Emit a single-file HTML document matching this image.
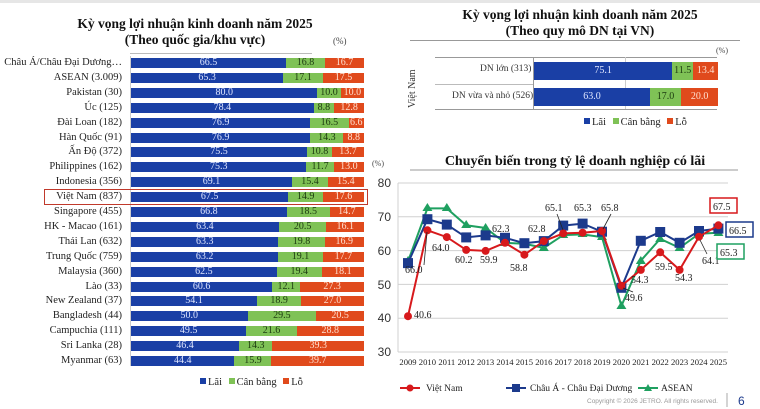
<!DOCTYPE html>
<html><head><meta charset="utf-8"><style>
body{margin:0;width:760px;height:409px;background:#fff;position:relative;overflow:hidden;font-family:"Liberation Serif",serif;}
.a{position:absolute;}
.t{font-weight:bold;font-size:13.5px;text-align:center;color:#111;line-height:16px;}
.row{position:absolute;left:0;height:10px;}
.lab{position:absolute;left:-8px;width:130px;text-align:right;font-size:10.5px;color:#222;top:-1px;line-height:12px;white-space:nowrap;}
.bar{position:absolute;left:131px;width:233px;height:10px;display:flex;font-size:10px;line-height:10px;}
.bar div{text-align:center;overflow:hidden;white-space:nowrap;}
.b{background:#1a3fa5;color:#dfe6ff;}.g{background:#7fc256;color:#1c3a10;}.r{background:#e04a1c;color:#ffe0d0;}
.leg{font-size:10.5px;color:#222;}
.sq{display:inline-block;width:6px;height:6px;margin:0 2px 1px 4px;}
</style></head><body>
<div class="a" style="left:0;top:0;width:760px;height:3px;background:#e6e6e6"></div>
<div class="a t" style="left:60px;top:16px;width:270px">Kỳ vọng lợi nhuận kinh doanh năm 2025<br>(Theo quốc gia/khu vực)</div>
<div class="a" style="left:333px;top:36px;font-size:9px;color:#444">(%)</div>
<div class="a" style="left:130px;top:53px;width:182px;height:1px;background:#bbb"></div>
<div class="a" style="left:130px;top:56px;width:1px;height:310px;background:#ccc"></div>

<div class="row" style="top:58px"><div class="lab">Châu Á/Châu Đại Dương…</div><div class="bar"><div class="b" style="width:66.5%">66.5</div><div class="g" style="width:16.8%">16.8</div><div class="r" style="width:16.7%">16.7</div></div></div>
<div class="row" style="top:73px"><div class="lab">ASEAN (3.009)</div><div class="bar"><div class="b" style="width:65.3%">65.3</div><div class="g" style="width:17.1%">17.1</div><div class="r" style="width:17.6%">17.5</div></div></div>
<div class="row" style="top:88px"><div class="lab">Pakistan (30)</div><div class="bar"><div class="b" style="width:80%">80.0</div><div class="g" style="width:10%">10.0</div><div class="r" style="width:10%">10.0</div></div></div>
<div class="row" style="top:103px"><div class="lab">Úc (125)</div><div class="bar"><div class="b" style="width:78.4%">78.4</div><div class="g" style="width:8.8%">8.8</div><div class="r" style="width:12.8%">12.8</div></div></div>
<div class="row" style="top:118px"><div class="lab">Đài Loan (182)</div><div class="bar"><div class="b" style="width:76.9%">76.9</div><div class="g" style="width:16.5%">16.5</div><div class="r" style="width:6.6%">6.6</div></div></div>
<div class="row" style="top:133px"><div class="lab">Hàn Quốc (91)</div><div class="bar"><div class="b" style="width:76.9%">76.9</div><div class="g" style="width:14.3%">14.3</div><div class="r" style="width:8.8%">8.8</div></div></div>
<div class="row" style="top:147px"><div class="lab">Ấn Độ (372)</div><div class="bar"><div class="b" style="width:75.5%">75.5</div><div class="g" style="width:10.8%">10.8</div><div class="r" style="width:13.7%">13.7</div></div></div>
<div class="row" style="top:162px"><div class="lab">Philippines (162)</div><div class="bar"><div class="b" style="width:75.3%">75.3</div><div class="g" style="width:11.7%">11.7</div><div class="r" style="width:13%">13.0</div></div></div>
<div class="row" style="top:177px"><div class="lab">Indonesia (356)</div><div class="bar"><div class="b" style="width:69.1%">69.1</div><div class="g" style="width:15.4%">15.4</div><div class="r" style="width:15.5%">15.4</div></div></div>
<div class="row" style="top:192px"><div class="lab">Việt Nam (837)</div><div class="bar"><div class="b" style="width:67.5%">67.5</div><div class="g" style="width:14.9%">14.9</div><div class="r" style="width:17.6%">17.6</div></div></div>
<div class="row" style="top:207px"><div class="lab">Singapore (455)</div><div class="bar"><div class="b" style="width:66.8%">66.8</div><div class="g" style="width:18.5%">18.5</div><div class="r" style="width:14.7%">14.7</div></div></div>
<div class="row" style="top:222px"><div class="lab">HK - Macao (161)</div><div class="bar"><div class="b" style="width:63.4%">63.4</div><div class="g" style="width:20.5%">20.5</div><div class="r" style="width:16.1%">16.1</div></div></div>
<div class="row" style="top:237px"><div class="lab">Thái Lan (632)</div><div class="bar"><div class="b" style="width:63.3%">63.3</div><div class="g" style="width:19.8%">19.8</div><div class="r" style="width:16.9%">16.9</div></div></div>
<div class="row" style="top:252px"><div class="lab">Trung Quốc (759)</div><div class="bar"><div class="b" style="width:63.2%">63.2</div><div class="g" style="width:19.1%">19.1</div><div class="r" style="width:17.7%">17.7</div></div></div>
<div class="row" style="top:267px"><div class="lab">Malaysia (360)</div><div class="bar"><div class="b" style="width:62.5%">62.5</div><div class="g" style="width:19.4%">19.4</div><div class="r" style="width:18.1%">18.1</div></div></div>
<div class="row" style="top:282px"><div class="lab">Lào (33)</div><div class="bar"><div class="b" style="width:60.6%">60.6</div><div class="g" style="width:12.1%">12.1</div><div class="r" style="width:27.3%">27.3</div></div></div>
<div class="row" style="top:296px"><div class="lab">New Zealand (37)</div><div class="bar"><div class="b" style="width:54.1%">54.1</div><div class="g" style="width:18.9%">18.9</div><div class="r" style="width:27%">27.0</div></div></div>
<div class="row" style="top:311px"><div class="lab">Bangladesh (44)</div><div class="bar"><div class="b" style="width:50%">50.0</div><div class="g" style="width:29.5%">29.5</div><div class="r" style="width:20.5%">20.5</div></div></div>
<div class="row" style="top:326px"><div class="lab">Campuchia (111)</div><div class="bar"><div class="b" style="width:49.5%">49.5</div><div class="g" style="width:21.6%">21.6</div><div class="r" style="width:28.9%">28.8</div></div></div>
<div class="row" style="top:341px"><div class="lab">Sri Lanka (28)</div><div class="bar"><div class="b" style="width:46.4%">46.4</div><div class="g" style="width:14.3%">14.3</div><div class="r" style="width:39.3%">39.3</div></div></div>
<div class="row" style="top:356px"><div class="lab">Myanmar (63)</div><div class="bar"><div class="b" style="width:44.4%">44.4</div><div class="g" style="width:15.9%">15.9</div><div class="r" style="width:39.7%">39.7</div></div></div>
<div class="a" style="left:44px;top:189px;width:322px;height:14px;border:1.5px solid #c0392b"></div>
<div class="a leg" style="left:196px;top:377px"><span class="sq" style="background:#1a3fa5"></span>Lãi <span class="sq" style="background:#7fc256"></span>Cân bằng <span class="sq" style="background:#e04a1c"></span>Lỗ</div>

<div class="a t" style="left:440px;top:7px;width:280px">Kỳ vọng lợi nhuận kinh doanh năm 2025<br>(Theo quy mô DN tại VN)</div>
<div class="a" style="left:410px;top:40px;width:330px;height:1px;background:#999"></div>
<div class="a" style="left:716px;top:46px;font-size:8px;color:#444">(%)</div>
<div class="a" style="left:435px;top:57px;width:282px;height:1px;background:#999"></div>
<div class="a" style="left:435px;top:84px;width:98px;height:1px;background:#bbb"></div>
<div class="a" style="left:435px;top:109px;width:282px;height:1px;background:#999"></div>
<div class="a" style="left:533px;top:57px;width:1px;height:52px;background:#999"></div>
<div class="a" style="left:625px;top:57px;width:1px;height:52px;background:#ccc"></div>
<div class="a" style="left:407px;font-size:10px;color:#333;transform:rotate(-90deg);transform-origin:left top;white-space:nowrap;top:108px">Việt Nam</div>
<div class="a" style="left:480px;top:64px;font-size:9.5px;color:#333">DN lớn (313)</div>
<div class="a" style="left:452px;top:91px;font-size:9.5px;color:#333">DN vừa và nhỏ (526)</div>
<div class="bar a" style="left:534px;top:62px;width:184px;height:18px;line-height:18px"><div class="b" style="width:75.1%">75.1</div><div class="g" style="width:11.5%">11.5</div><div class="r" style="width:13.4%">13.4</div></div>
<div class="bar a" style="left:534px;top:88px;width:184px;height:18px;line-height:18px"><div class="b" style="width:63%">63.0</div><div class="g" style="width:17%">17.0</div><div class="r" style="width:20%">20.0</div></div>
<div class="a leg" style="left:580px;top:117px"><span class="sq" style="background:#1a3fa5"></span>Lãi <span class="sq" style="background:#7fc256"></span>Cân bằng <span class="sq" style="background:#e04a1c"></span>Lỗ</div>

<svg class="a" style="left:0;top:0" width="760" height="409" font-family="Liberation Serif, serif">
<text x="575" y="165" font-size="14" font-weight="bold" text-anchor="middle" fill="#111">Chuyển biến trong tỷ lệ doanh nghiệp có lãi</text>
<line x1="410" y1="170" x2="738" y2="170" stroke="#999"/>
<text x="372" y="166" font-size="8" fill="#444">(%)</text>
<g stroke="#d0d0d0" stroke-width="1">
<line x1="398" y1="183" x2="728" y2="183"/><line x1="398" y1="216.8" x2="728" y2="216.8"/><line x1="398" y1="250.6" x2="728" y2="250.6"/><line x1="398" y1="284.4" x2="728" y2="284.4"/><line x1="398" y1="318.2" x2="728" y2="318.2"/><line x1="398" y1="352" x2="728" y2="352"/>
<line x1="398" y1="183" x2="398" y2="352"/>
</g>
<g font-family="Liberation Sans, sans-serif" font-size="12" fill="#333" text-anchor="end">
<text x="391" y="187">80</text><text x="391" y="221">70</text><text x="391" y="255">60</text><text x="391" y="289">50</text><text x="391" y="322">40</text><text x="391" y="356">30</text></g>
<g font-size="8.6" fill="#222" text-anchor="middle">
<text x="408" y="365">2009</text><text x="427.4" y="365">2010</text><text x="446.8" y="365">2011</text><text x="466.2" y="365">2012</text><text x="485.6" y="365">2013</text><text x="505" y="365">2014</text><text x="524.4" y="365">2015</text><text x="543.8" y="365">2016</text><text x="563.2" y="365">2017</text><text x="582.6" y="365">2018</text><text x="602" y="365">2019</text><text x="621.4" y="365">2020</text><text x="640.8" y="365">2021</text><text x="660.2" y="365">2022</text><text x="679.6" y="365">2023</text><text x="699" y="365">2024</text><text x="718.4" y="365">2025</text></g>
<polyline fill="none" stroke="#1fa060" stroke-width="2" points="408,261.4 427.4,208.4 446.8,208.4 466.2,225.3 485.6,228 505,242.8 524.4,243.8 543.8,247.9 563.2,235.1 582.6,234.4 602,237.1 621.4,306 640.8,260.7 660.2,238.8 679.6,247.9 699,233.7 718.4,232.7"/>
<g fill="#1fa060">
<path d="M408,256l5,8h-10z"/><path d="M427.4,203l5,8h-10z"/><path d="M446.8,203l5,8h-10z"/><path d="M466.2,220l5,8h-10z"/><path d="M485.6,223l5,8h-10z"/><path d="M505,238l5,8h-10z"/><path d="M524.4,239l5,8h-10z"/><path d="M543.8,243l5,8h-10z"/><path d="M563.2,230l5,8h-10z"/><path d="M582.6,229l5,8h-10z"/><path d="M602,232l5,8h-10z"/><path d="M621.4,301l5,8h-10z"/><path d="M640.8,256l5,8h-10z"/><path d="M660.2,234l5,8h-10z"/><path d="M679.6,243l5,8h-10z"/><path d="M699,229l5,8h-10z"/><path d="M718.4,228l5,8h-10z"/></g>
<polyline fill="none" stroke="#1c3a8c" stroke-width="2" points="408,263.1 427.4,219.2 446.8,224.6 466.2,237.4 485.6,235.4 505,237.8 524.4,243.2 543.8,241.1 563.2,225.6 582.6,223.6 602,231.7 621.4,287.8 640.8,240.8 660.2,232 679.6,242.8 699,231 718.4,228.6"/>
<g fill="#1c3a8c">
<rect x="403" y="258.1" width="10" height="10"/><rect x="422.4" y="214.2" width="10" height="10"/><rect x="441.8" y="219.6" width="10" height="10"/><rect x="461.2" y="232.4" width="10" height="10"/><rect x="480.6" y="230.4" width="10" height="10"/><rect x="500" y="232.8" width="10" height="10"/><rect x="519.4" y="238.2" width="10" height="10"/><rect x="538.8" y="236.1" width="10" height="10"/><rect x="558.2" y="220.6" width="10" height="10"/><rect x="577.6" y="218.6" width="10" height="10"/><rect x="597" y="226.7" width="10" height="10"/><rect x="616.4" y="282.8" width="10" height="10"/><rect x="635.8" y="235.8" width="10" height="10"/><rect x="655.2" y="227" width="10" height="10"/><rect x="674.6" y="237.8" width="10" height="10"/><rect x="694" y="226" width="10" height="10"/><rect x="713.4" y="223.6" width="10" height="10"/></g>
<polyline fill="none" stroke="#d7191c" stroke-width="2" points="408,316.2 427.4,230.3 446.8,237.1 466.2,249.9 485.6,250.9 505,242.8 524.4,254.7 543.8,241.1 563.2,233.4 582.6,232.7 602,231 621.4,285.8 640.8,269.9 660.2,252.3 679.6,269.9 699,236.7 718.4,225.3"/>
<g fill="#d7191c">
<circle cx="408" cy="316.2" r="4"/><circle cx="427.4" cy="230.3" r="4"/><circle cx="446.8" cy="237.1" r="4"/><circle cx="466.2" cy="249.9" r="4"/><circle cx="485.6" cy="250.9" r="4"/><circle cx="505" cy="242.8" r="4"/><circle cx="524.4" cy="254.7" r="4"/><circle cx="543.8" cy="241.1" r="4"/><circle cx="563.2" cy="233.4" r="4"/><circle cx="582.6" cy="232.7" r="4"/><circle cx="602" cy="231" r="4"/><circle cx="621.4" cy="285.8" r="4"/><circle cx="640.8" cy="269.9" r="4"/><circle cx="660.2" cy="252.3" r="4"/><circle cx="679.6" cy="269.9" r="4"/><circle cx="699" cy="236.7" r="4"/><circle cx="718.4" cy="225.3" r="4"/></g>
<g font-size="10" fill="#222">
<text x="414" y="318">40.6</text><text x="405" y="273">66.0</text><text x="432" y="251">64.0</text><text x="455" y="263">60.2</text><text x="480" y="263">59.9</text><text x="492" y="232">62.3</text><text x="510" y="271">58.8</text><text x="528" y="232">62.8</text><text x="545" y="211">65.1</text><text x="574" y="211">65.3</text><text x="601" y="211">65.8</text><text x="631" y="283">54.3</text><text x="625" y="301">49.6</text><text x="655" y="270">59.5</text><text x="675" y="281">54.3</text><text x="702" y="264">64.1</text>
<rect x="710" y="198" width="27" height="15" fill="#fff" stroke="#d7191c" stroke-width="1.5"/><text x="713" y="210" fill="#222">67.5</text>
<rect x="726" y="222" width="27" height="15" fill="#fff" stroke="#1c3a8c" stroke-width="1.5"/><text x="729" y="234">66.5</text>
<rect x="717" y="244" width="27" height="15" fill="#fff" stroke="#1fa060" stroke-width="1.5"/><text x="720" y="256">65.3</text>
</g>
<g stroke="#222" stroke-width="0.8"><line x1="427" y1="232" x2="424" y2="265"/><line x1="557" y1="214" x2="563" y2="230"/><line x1="611" y1="214" x2="603" y2="229"/><line x1="633" y1="292" x2="623" y2="288"/><line x1="707" y1="254" x2="700" y2="240"/></g>
<g font-size="9.5" fill="#222">
<line x1="400" y1="388" x2="420" y2="388" stroke="#d7191c" stroke-width="2"/><circle cx="410" cy="388" r="3.5" fill="#d7191c"/><text x="426" y="391">Việt Nam</text>
<line x1="506" y1="388" x2="526" y2="388" stroke="#1c3a8c" stroke-width="2"/><rect x="512" y="384" width="8" height="8" fill="#1c3a8c"/><text x="530" y="391">Châu Á - Châu Đại Dương</text>
<line x1="638" y1="388" x2="658" y2="388" stroke="#1fa060" stroke-width="2"/><path d="M648,384l4,7h-8z" fill="#1fa060"/><text x="661" y="391">ASEAN</text></g>
<text x="587" y="403" font-family="Liberation Sans, sans-serif" font-size="6.5" fill="#999">Copyright © 2026 JETRO. All rights reserved.</text>
<line x1="727" y1="393" x2="727" y2="407" stroke="#aaa"/>
<text x="738" y="405" font-family="Liberation Sans, sans-serif" font-size="12" fill="#1c3a8c">6</text>
</svg>
</body></html>
